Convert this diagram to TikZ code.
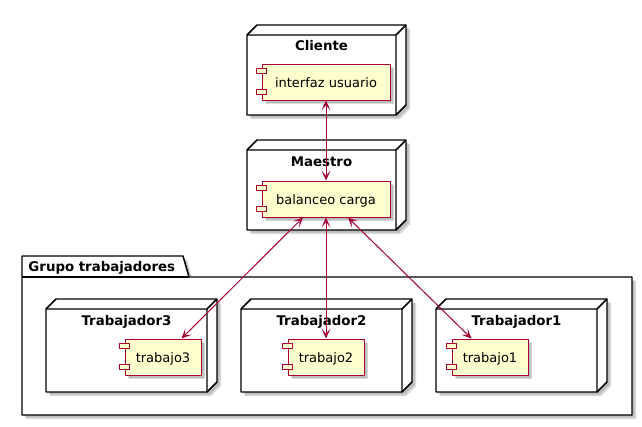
\documentclass[tikz,border=0pt]{standalone}
\usepackage{fontspec}
\setmainfont{DejaVu Sans}
\usetikzlibrary{arrows.meta,shadows}

\definecolor{plantrojo}{RGB}{168,0,54}
\definecolor{plantamarillo}{RGB}{254,254,206}

\tikzset{every picture/.style={line width=0.75pt}}
\tikzset{
  sombra/.style={drop shadow={shadow xshift=3pt, shadow yshift=-3pt, opacity=0.15, fill=black},
    drop shadow={shadow xshift=2pt, shadow yshift=-2pt, opacity=0.2, fill=black!70}},
  nodo/.style={draw=black, fill=white, line width=1.1pt, line join=round, sombra},
  aristas/.style={draw=black, line width=1.1pt, line join=round},
  titulo/.style={anchor=base, inner sep=0pt, font=\bfseries\fontsize{10}{12}\selectfont},
  componente/.style={draw=plantrojo, fill=plantamarillo, line width=0.75pt, sombra,
    minimum width=57pt, minimum height=27pt, inner sep=0pt,
    text height=8pt, text depth=0.5pt, font=\fontsize{9.75}{12}\selectfont},
  icono/.style={draw=plantrojo, fill=plantamarillo, line width=0.75pt},
  flecha/.style={draw=plantrojo, line width=0.75pt,
    {Stealth[length=7.5pt, width=6.75pt, inset=4pt]}-{Stealth[length=7.5pt, width=6.75pt, inset=4pt]}}
}

\begin{document}
\begin{tikzpicture}[x=0.75pt,y=0.75pt,yscale=-1,xscale=1]
	\path[use as bounding box] (0,0) rectangle (642,426);

	%Paquete Grupo trabajadores
	\draw[nodo] (22,256) -- (183,256) -- (189,277) -- (632,277) -- (632,415) -- (22,415) -- cycle ;
	\draw[aristas] (22,277) -- (189,277) ;
	% Text Node
	\node[titulo, anchor=base west] (grupo) at (28,271) {Grupo trabajadores};

	%Nodo Cliente
	\draw[nodo] (247,35) -- (257,25) -- (406,25) -- (406,105) -- (396,115) -- (247,115) -- cycle ;
	\draw[aristas] (247,35) -- (396,35) -- (406,25) (396,35) -- (396,115) ;
	% Text Node
	\node[titulo] (cliente) at (321.5,50) {Cliente};

	%Nodo Maestro
	\draw[nodo] (247,150) -- (257,140) -- (406,140) -- (406,220) -- (396,230) -- (247,230) -- cycle ;
	\draw[aristas] (247,150) -- (396,150) -- (406,140) (396,150) -- (396,230) ;
	% Text Node
	\node[titulo] (maestro) at (321.5,166) {Maestro};

	%Nodo Trabajador3
	\draw[nodo] (46,309) -- (56,299) -- (217,299) -- (217,382) -- (207,392) -- (46,392) -- cycle ;
	\draw[aristas] (46,309) -- (207,309) -- (217,299) (207,309) -- (207,392) ;
	% Text Node
	\node[titulo] (trabajador3) at (126.5,325) {Trabajador3};

	%Nodo Trabajador2
	\draw[nodo] (241,309) -- (251,299) -- (412,299) -- (412,382) -- (402,392) -- (241,392) -- cycle ;
	\draw[aristas] (241,309) -- (402,309) -- (412,299) (402,309) -- (402,392) ;
	% Text Node
	\node[titulo] (trabajador2) at (321.5,325) {Trabajador2};

	%Nodo Trabajador1
	\draw[nodo] (436,309) -- (446,299) -- (607,299) -- (607,382) -- (597,392) -- (436,392) -- cycle ;
	\draw[aristas] (436,309) -- (597,309) -- (607,299) (597,309) -- (597,392) ;
	% Text Node
	\node[titulo] (trabajador1) at (516.5,325) {Trabajador1};

	%Componentes
	\node[componente, minimum width=96pt] (interfaz) at (326,82) {interfaz usuario};
	\draw[icono] ([shift={(-5,5)}]interfaz.north west) rectangle ++(10,5) ;
	\draw[icono] ([shift={(-5,-11)}]interfaz.south west) rectangle ++(10,5) ;

	\node[componente, minimum width=96pt] (balanceo) at (326,199) {balanceo carga};
	\draw[icono] ([shift={(-5,5)}]balanceo.north west) rectangle ++(10,5) ;
	\draw[icono] ([shift={(-5,-11)}]balanceo.south west) rectangle ++(10,5) ;

	\node[componente] (trabajo3) at (163,357) {trabajo3};
	\draw[icono] ([shift={(-5,5)}]trabajo3.north west) rectangle ++(10,5) ;
	\draw[icono] ([shift={(-5,-11)}]trabajo3.south west) rectangle ++(10,5) ;

	\node[componente] (trabajo2) at (326,357) {trabajo2};
	\draw[icono] ([shift={(-5,5)}]trabajo2.north west) rectangle ++(10,5) ;
	\draw[icono] ([shift={(-5,-11)}]trabajo2.south west) rectangle ++(10,5) ;

	\node[componente] (trabajo1) at (490,357) {trabajo1};
	\draw[icono] ([shift={(-5,5)}]trabajo1.north west) rectangle ++(10,5) ;
	\draw[icono] ([shift={(-5,-11)}]trabajo1.south west) rectangle ++(10,5) ;

	%Flechas
	\draw[flecha] (interfaz.south) -- (balanceo.north) ;
	\draw[flecha] ([shift={(-23,0)}]balanceo.south) -- ([shift={(-20,0)}]trabajo3.north east) ;
	\draw[flecha] (balanceo.south) -- (trabajo2.north) ;
	\draw[flecha] ([shift={(22,0)}]balanceo.south) -- ([shift={(20,0)}]trabajo1.north west) ;

\end{tikzpicture}
\end{document}
